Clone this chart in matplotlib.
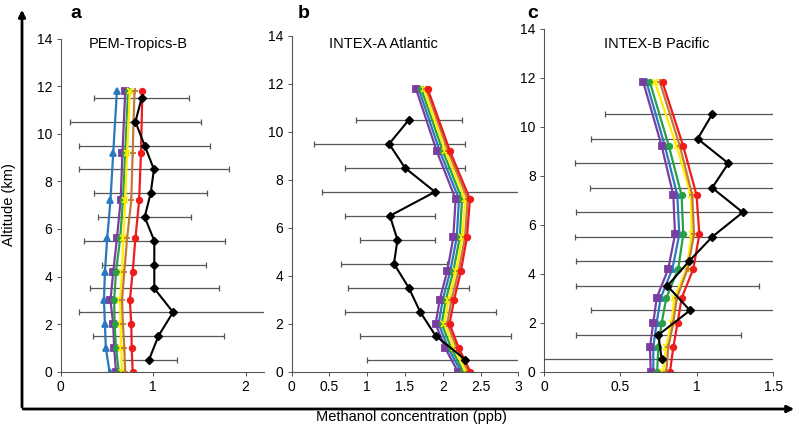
import matplotlib
matplotlib.use("Agg")
import matplotlib.pyplot as plt
from matplotlib.patches import FancyArrowPatch

plt.rcParams['font.family'] = ['Liberation Sans', 'DejaVu Sans']

# ---------------- data ----------------
model_alt = [0, 1, 2, 3, 4.2, 5.6, 7.2, 9.2, 11.8]
obs_alt_a = [0.5, 1.5, 2.5, 3.5, 4.5, 5.5, 6.5, 7.5, 8.5, 9.5, 10.5, 11.5]
obs_alt_bc = [0.5, 1.5, 2.5, 3.5, 4.5, 5.5, 6.5, 7.5, 8.5, 9.5, 10.5]

series_names = ["blue", "purple", "green", "yellow", "orange", "red"]

# Panel a: PEM-Tropics-B
a_blue = [0.53, 0.49, 0.48, 0.47, 0.48, 0.505, 0.54, 0.57, 0.61]
a_purple = [0.60, 0.58, 0.57, 0.54, 0.57, 0.61, 0.65, 0.67, 0.70]
a_green = [0.63, 0.60, 0.585, 0.58, 0.60, 0.645, 0.675, 0.70, 0.73]
a_yellow = [0.67, 0.655, 0.65, 0.645, 0.665, 0.68, 0.70, 0.72, 0.75]
a_orange = [0.70, 0.69, 0.675, 0.665, 0.69, 0.72, 0.765, 0.78, 0.80]
a_red = [0.78, 0.77, 0.765, 0.75, 0.78, 0.81, 0.85, 0.87, 0.885]
a_obs = [0.957, 1.058, 1.217, 1.014, 1.014, 1.014, 0.91, 0.975, 1.01, 0.91, 0.81, 0.877]
a_sd = [0.30, 0.71, 1.02, 0.70, 0.56, 0.76, 0.50, 0.61, 0.81, 0.71, 0.71, 0.51]

# Panel b: INTEX-A Atlantic
b_purple = [2.20, 2.03, 1.905, 1.96, 2.06, 2.14, 2.17, 1.92, 1.645]
b_blue = [2.24, 2.07, 1.945, 2.00, 2.10, 2.185, 2.215, 1.96, 1.68]
b_green = [2.27, 2.11, 1.985, 2.04, 2.14, 2.225, 2.255, 2.00, 1.715]
b_yellow = [2.31, 2.15, 2.02, 2.075, 2.175, 2.26, 2.295, 2.035, 1.745]
b_orange = [2.34, 2.185, 2.06, 2.115, 2.21, 2.295, 2.33, 2.07, 1.78]
b_red = [2.365, 2.21, 2.09, 2.15, 2.24, 2.32, 2.36, 2.095, 1.80]
b_obs = [2.30, 1.905, 1.70, 1.55, 1.354, 1.40, 1.30, 1.897, 1.50, 1.29, 1.55]
b_sd = [1.3, 1.0, 1.0, 0.80, 0.70, 0.50, 0.60, 1.49, 0.80, 1.0, 0.70]

# Panel c: INTEX-B Pacific
c_purple = [0.698, 0.693, 0.715, 0.737, 0.813, 0.857, 0.846, 0.77, 0.65]
c_blue = [0.715, 0.715, 0.737, 0.763, 0.84, 0.885, 0.872, 0.791, 0.671]
c_green = [0.74, 0.748, 0.77, 0.80, 0.878, 0.911, 0.90, 0.817, 0.693]
c_yellow = [0.78, 0.798, 0.835, 0.852, 0.933, 0.966, 0.961, 0.868, 0.726]
c_orange = [0.80, 0.813, 0.846, 0.868, 0.94, 0.981, 0.97, 0.889, 0.759]
c_red = [0.824, 0.846, 0.874, 0.90, 0.977, 1.016, 0.998, 0.911, 0.776]
c_obs = [0.77, 0.748, 0.955, 0.807, 0.948, 1.10, 1.30, 1.10, 1.206, 1.005, 1.10]
c_sd = [1.0, 0.54, 0.65, 0.60, 0.74, 0.90, 1.09, 0.80, 1.0, 0.70, 0.70]

titles = ["PEM-Tropics-B", "INTEX-A Atlantic", "INTEX-B Pacific"]
letters = ["a", "b", "c"]
xticks_a = [0, 1, 2]
xticks_b = [0, 0.5, 1, 1.5, 2, 2.5, 3]
xticks_c = [0, 0.5, 1, 1.5]
yticks = [0, 2, 4, 6, 8, 10, 12, 14]

# ---------------- style ----------------
colors = {"blue": "#2a78bd", "purple": "#7a3ea0", "green": "#27a046",
          "yellow": "#ffee00", "orange": "#c27a3a", "red": "#ee1c1c"}
markers = {"blue": "^", "purple": "s", "green": "o", "yellow": "x",
           "orange": "+", "red": "o"}

W, H = 799, 428
fig = plt.figure(figsize=(W / 100, H / 100), dpi=100)

def frac_rect(left, right, top, bottom):
    return [left / W, 1 - bottom / H, (right - left) / W, (bottom - top) / H]

panels = [
    dict(rect=frac_rect(60.5, 264, 38.5, 371.7), xlim=(0, 2.2), xticks=xticks_a,
         xlabels=["0", "1", "2"],
         series=[a_blue, a_purple, a_green, a_yellow, a_orange, a_red],
         order=["blue", "purple", "green", "yellow", "orange", "red"],
         obs=a_obs, sd=a_sd, obs_alt=obs_alt_a, title_x=0.30, title_y=13.75,
         letter_x=70),
    dict(rect=frac_rect(291.7, 518.3, 36, 371.7), xlim=(0, 3), xticks=xticks_b,
         xlabels=["0", "0.5", "1", "1.5", "2", "2.5", "3"],
         series=[b_blue, b_purple, b_green, b_yellow, b_orange, b_red],
         order=["blue", "purple", "green", "yellow", "orange", "red"],
         obs=b_obs, sd=b_sd, obs_alt=obs_alt_bc, title_x=0.49, title_y=13.65,
         letter_x=298),
    dict(rect=frac_rect(544, 773.3, 28.5, 371.7), xlim=(0, 1.5), xticks=xticks_c,
         xlabels=["0", "0.5", "1", "1.5"],
         series=[c_blue, c_purple, c_green, c_yellow, c_orange, c_red],
         order=["blue", "purple", "green", "yellow", "orange", "red"],
         obs=c_obs, sd=c_sd, obs_alt=obs_alt_bc, title_x=0.39, title_y=13.35,
         letter_x=527),
]

for i, p in enumerate(panels):
    ax = fig.add_axes(p["rect"])
    ax.set_xlim(*p["xlim"])
    ax.set_ylim(0, 14)
    ax.set_facecolor("none")
    for s in ["top", "right"]:
        ax.spines[s].set_visible(False)
    for s in ["left", "bottom"]:
        ax.spines[s].set_color("#555555")
        ax.spines[s].set_linewidth(0.8)
    ax.tick_params(direction="out", length=3, width=0.7, color="#555555",
                   labelsize=10, pad=3)
    ax.set_xticks(p["xticks"])
    ax.set_xticklabels(p["xlabels"])
    ax.set_yticks(yticks)

    # observation error bars
    ax.errorbar(p["obs"], p["obs_alt"], xerr=p["sd"], fmt="none",
                ecolor="#555555", elinewidth=0.9, capsize=2.5, capthick=0.9,
                zorder=1)
    # model series
    for name, vals in zip(p["order"], p["series"]):
        ms = 5 if markers[name] in ("+", "x") else 4
        ax.plot(vals, model_alt, color=colors[name], lw=1.6,
                marker=markers[name], ms=ms, mew=1.3, zorder=2)
    # observations
    ax.plot(p["obs"], p["obs_alt"], color="black", lw=1.5, marker="D", ms=4,
            zorder=3)

    ax.text(p["title_x"], p["title_y"], titles[i], fontsize=10.5,
            ha="left", va="center")
    fig.text(p["letter_x"] / W, 1 - 13 / H, letters[i], fontsize=14,
             fontweight="bold", ha="left", va="center")

# big axis arrows
x0, y0 = 22 / W, 1 - 409 / H
fig.add_artist(FancyArrowPatch((x0, y0 - 0.002), (x0, 1 - 7 / H),
                               transform=fig.transFigure, arrowstyle="-|>",
                               mutation_scale=10, lw=2, color="black"))
fig.add_artist(FancyArrowPatch((x0 - 0.002, y0), (797 / W, y0),
                               transform=fig.transFigure, arrowstyle="-|>",
                               mutation_scale=10, lw=2, color="black"))
fig.text(9 / W, 1 - 205 / H, "Altitude (km)", rotation=90, ha="center",
         va="center", fontsize=10.5)
fig.text(411 / W, 1 - 417 / H, "Methanol concentration (ppb)", ha="center",
         va="center", fontsize=10.5)

fig.savefig("out.png", dpi=100)
